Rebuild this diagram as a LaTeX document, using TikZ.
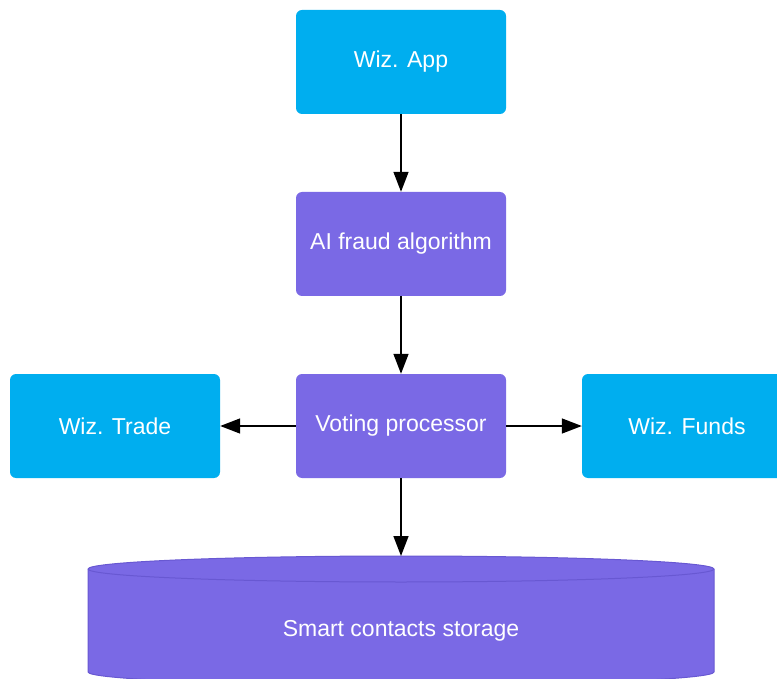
\documentclass[tikz,border=0pt]{standalone}
\usepackage{fontspec}
\setmainfont{Liberation Sans}
\usetikzlibrary{arrows.meta}
\definecolor{wizblue}{RGB}{0,174,239}
\definecolor{wizpurple}{RGB}{122,105,229}
\definecolor{wizedge}{RGB}{104,88,210}

\begin{document}
\begin{tikzpicture}[x=1pt,y=-1pt,
  box/.style={rounded corners=6pt, minimum width=210pt, minimum height=104pt, text=white, font=\fontsize{23}{27}\selectfont},
  app/.style={box, fill=wizblue},
  proc/.style={box, fill=wizpurple},
  flow/.style={-{Triangle[length=20pt,width=15pt]}, line width=1.5pt}]

\clip (0,0) rectangle (777,679);

\node [app] (app) at (401,62) {Wiz. App};
\node [proc] (fraud) at (401,244) {AI fraud algorithm};
\node [proc] (vote) at (401,426) {Voting processor};
\node [app] (trade) at (115,426) {Wiz. Trade};
\node [app] (funds) at (687,426) {Wiz. Funds};

\filldraw [fill=wizpurple, draw=wizedge, line width=1pt] (88,569) -- (88,672) arc [start angle=180, end angle=0, x radius=313, y radius=13] -- (714,569) arc [start angle=0, end angle=-180, x radius=313, y radius=13] -- cycle;
\draw [wizedge, line width=1pt] (88,569) arc [start angle=180, end angle=0, x radius=313, y radius=13];
\node [text=white, font=\fontsize{23}{27}\selectfont] (storage) at (401,631) {Smart contacts storage};
\coordinate (storetop) at (401,556);

\draw [flow] (app) -- (fraud);
\draw [flow] (fraud) -- (vote);
\draw [flow] (vote) -- (trade);
\draw [flow] (vote) -- (funds);
\draw [flow] (vote) -- (storetop);

\end{tikzpicture}
\end{document}
